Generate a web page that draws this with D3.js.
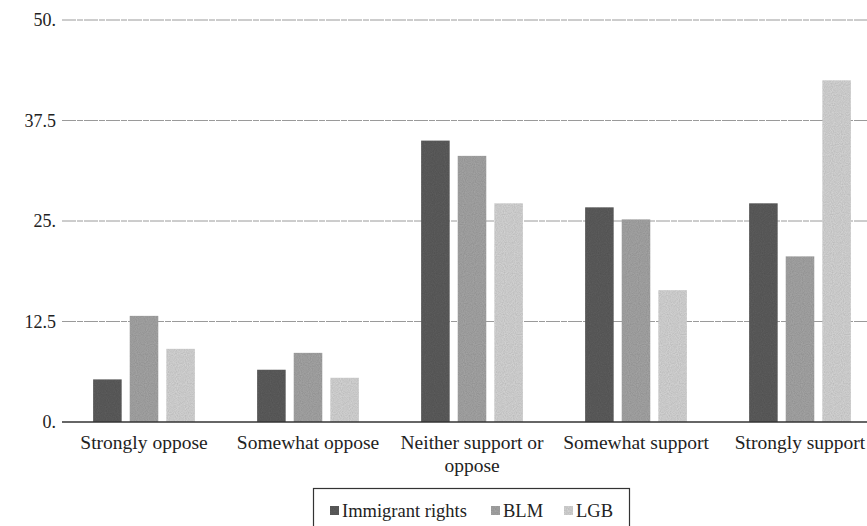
<!DOCTYPE html>
<html>
<head>
<meta charset="utf-8">
<script src="https://cdn.jsdelivr.net/npm/d3@7"></script>
<style>
  body { margin: 0; background: #fff; }
</style>
</head>
<body>
<div id="chart"></div>
<script>
// values (percent)
const categories = ["Strongly oppose", "Somewhat oppose", "Neither support or oppose", "Somewhat support", "Strongly support"];
const seriesNames = ["Immigrant rights", "BLM", "LGB"];
const immigrant = [5.3, 6.5, 35.0, 26.7, 27.2];
const blm = [13.2, 8.6, 33.1, 25.2, 20.6];
const lgb = [9.1, 5.5, 27.2, 16.4, 42.5];
const yTicks = [0, 12.5, 25, 37.5, 50];
const yTickLabels = ["0.", "12.5", "25.", "37.5", "50."];

const series = [immigrant, blm, lgb];
const colors = ["#5f5f5f", "#a9a9a9", "#dadada"];
const serif = "Liberation Serif";

const width = 867,
      height = 526,
      margin = ({ top: 20, right: -15, bottom: 104, left: 62 });

const svg = d3.select("#chart")
  .append("svg")
  .attr("width", width)
  .attr("height", height)
  .attr("font-family", serif)
  .style("display", "block");

// grain texture like the scanned print
const defs = svg.append("defs");
const filter = defs.append("filter").attr("id", "grain");
filter.append("feTurbulence")
  .attr("type", "fractalNoise")
  .attr("baseFrequency", 0.9)
  .attr("numOctaves", 1)
  .attr("result", "noise");
filter.append("feColorMatrix")
  .attr("in", "noise")
  .attr("type", "matrix")
  .attr("values", "0 0 0 0 0  0 0 0 0 0  0 0 0 0 0  0 0 0 0.35 0")
  .attr("result", "dots");
filter.append("feComposite")
  .attr("in", "dots")
  .attr("in2", "SourceGraphic")
  .attr("operator", "atop");

const x = d3.scaleBand()
  .domain(categories)
  .range([margin.left, width - margin.right]);

const x1 = d3.scaleBand()
  .domain(seriesNames)
  .range([0, x.bandwidth()])
  .paddingInner(0.22)
  .paddingOuter(0.85);

const y = d3.scaleLinear()
  .domain([0, 50])
  .range([height - margin.bottom, margin.top]);

// gridlines
svg.append("g")
  .selectAll("line")
  .data(yTicks.filter(d => d > 0))
  .join("line")
  .attr("x1", margin.left)
  .attr("x2", width)
  .attr("y1", d => y(d))
  .attr("y2", d => y(d))
  .attr("stroke", "#9a9a9a")
  .attr("stroke-width", 1)
  .attr("stroke-dasharray", "14 1 6 1");

// y labels
svg.append("g")
  .attr("font-size", 18)
  .attr("text-anchor", "end")
  .selectAll("text")
  .data(yTicks)
  .join("text")
  .attr("font-family", serif)
  .attr("x", margin.left - 6)
  .attr("y", d => y(d))
  .attr("dy", "0.35em")
  .attr("fill", "#222")
  .text((d, i) => yTickLabels[i]);

// bars
const groups = svg.append("g")
  .selectAll("g")
  .data(categories)
  .join("g")
  .attr("transform", d => `translate(${x(d)},0)`);

groups.selectAll("rect")
  .data((d, ci) => seriesNames.map((s, si) => ({ s, si, v: series[si][ci] })))
  .join("rect")
  .attr("x", d => x1(d.s))
  .attr("width", x1.bandwidth())
  .attr("y", d => y(d.v))
  .attr("height", d => y(0) - y(d.v))
  .attr("fill", d => colors[d.si])
  .attr("filter", "url(#grain)");

// baseline
svg.append("line")
  .attr("x1", margin.left)
  .attr("x2", width)
  .attr("y1", y(0))
  .attr("y2", y(0))
  .attr("stroke", "#333")
  .attr("stroke-width", 1.5);

// x labels, wrapped like the original
const wrapped = {
  "Neither support or oppose": ["Neither support or", "oppose"]
};
svg.append("g")
  .attr("font-size", 19.5)
  .attr("text-anchor", "middle")
  .selectAll("text")
  .data(categories)
  .join("text")
  .attr("font-family", serif)
  .attr("transform", d => `translate(${x(d) + x.bandwidth() / 2},${y(0) + 27})`)
  .selectAll("tspan")
  .data(d => wrapped[d] || [d])
  .join("tspan")
  .attr("x", 0)
  .attr("y", (d, i) => `${i * 1.2}em`)
  .attr("fill", "#222")
  .text(d => d);

// legend
const legend = svg.append("g");
legend.append("rect")
  .attr("x", 313.5)
  .attr("y", 488.5)
  .attr("width", 316)
  .attr("height", 40)
  .attr("fill", "none")
  .attr("stroke", "#333")
  .attr("stroke-width", 1.2);

const legendX = [330, 491, 564];
const items = legend.selectAll("g")
  .data(seriesNames)
  .join("g")
  .attr("transform", (d, i) => `translate(${legendX[i]},517)`);

items.append("rect")
  .attr("x", 0)
  .attr("y", -11)
  .attr("width", 9)
  .attr("height", 9)
  .attr("fill", (d, i) => colors[i])
  .attr("filter", "url(#grain)");

items.append("text")
  .attr("font-family", serif)
  .attr("x", 12)
  .attr("y", 0)
  .attr("font-size", 18.5)
  .attr("fill", "#222")
  .text(d => d);
</script>
</body>
</html>
